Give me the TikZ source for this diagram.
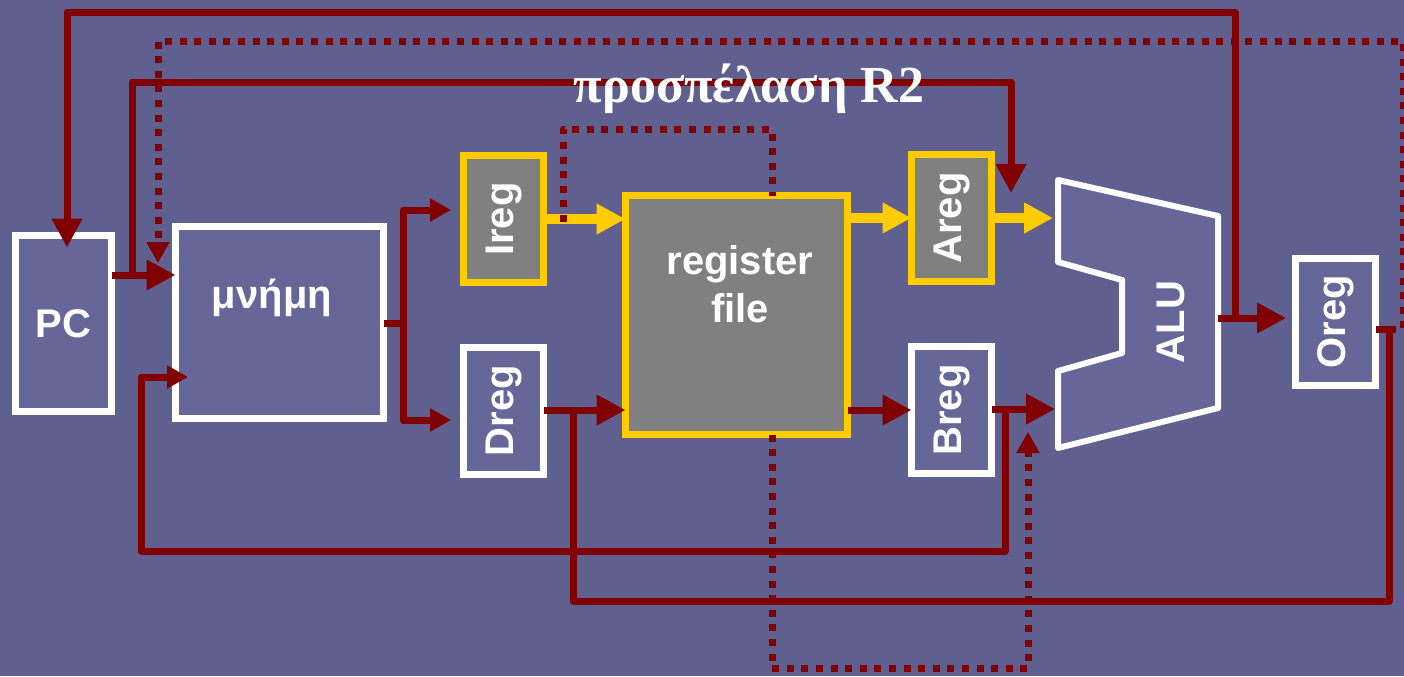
\documentclass[tikz,border=0pt]{standalone}
\usepackage{fontspec}
\setmainfont{Liberation Sans}
\newfontfamily\greekserif{Liberation Serif}
\usepackage{graphicx}
\usepackage{tikz}
\usetikzlibrary{arrows.meta, calc}
\definecolor{slideblue}{RGB}{96, 96, 144}
\definecolor{boxblue}{RGB}{102, 102, 153}
\definecolor{wirered}{RGB}{128, 0, 0}
\definecolor{hiyellow}{RGB}{255, 204, 0}
\definecolor{regfill}{RGB}{128, 128, 128}

\begin{document}
\begin{tikzpicture}[x=0.5pt, y=-0.5pt,
    box/.style={draw=white, fill=boxblue, line width=3.5pt, inner sep=0pt, outer sep=0pt,
      text=white, font=\bfseries\fontsize{20}{24}\selectfont},
    regbox/.style={box, minimum width=40pt, minimum height=63.5pt},
    hireg/.style={regbox, draw=hiyellow, fill=regfill},
    lbl/.style={text=white, font=\bfseries\fontsize{20}{24}\selectfont},
    alushape/.style={draw=white, fill=boxblue, line width=3pt, line join=round},
    wire/.style={draw=wirered, line width=3.5pt, line join=round},
    dotwire/.style={wire, dash pattern=on 3.5pt off 3.8pt},
    hiwire/.style={draw=hiyellow, line width=5pt},
    bigtip/.tip={Triangle[length=14.5pt, width=14.5pt]},
    smalltip/.tip={Triangle[length=10.5pt, width=11pt]}]
  \useasboundingbox (0,0) rectangle (1404,676);
  \fill[slideblue] (0,0) rectangle (1404,676);
  \clip (0,0) rectangle (1404,676);

  \node[box, minimum width=48pt, minimum height=88pt] (PC) at (63.5,323.5) {PC};
  \node[box, minimum width=104pt, minimum height=96pt] (mem) at (279.5,322.5) {};
  \node[lbl] (memtext) at (272,298) {μνήμη};
  \node[hireg] (Ireg) at (503.5,219) {\rotatebox{90}{Ireg}};
  \node[hireg, minimum width=111pt, minimum height=119.5pt] (rf) at (736.5,315) {};
  \node[lbl, align=center] (rftext) at (740,284) {register\\file};
  \node[hireg] (Areg) at (951.5,218) {\rotatebox{90}{Areg}};
  \node[regbox] (Dreg) at (503.5,410.5) {\rotatebox{90}{Dreg}};
  \node[regbox] (Breg) at (951.5,410) {\rotatebox{90}{Breg}};
  \node[regbox] (Oreg) at (1335.5,321.5) {\rotatebox{90}{Oreg}};

  \draw[alushape] (1058,180) -- (1218,216) -- (1218,408) -- (1058,448) -- (1058,371)
    -- (1122,353) -- (1122,280) -- (1058,262) -- cycle;
  \node[lbl] (alu) at (1171,322) {\rotatebox{90}{ALU}};

  \coordinate (alua) at (1053,218);
  \coordinate (alub) at (1055,409);
  \coordinate (aluo) at (1218,318);
  \coordinate (muxA) at (1011,193);
  \coordinate (muxB) at (1028,432);
  \coordinate (maddr) at (158,263);
  \coordinate (jpc) at (132,275);
  \coordinate (jmem) at (403,323);
  \coordinate (jd) at (573,410);
  \coordinate (jb) at (1005,409);
  \coordinate (jalu) at (1235,318);
  \coordinate (jo) at (1389,329);
  \coordinate (imm) at (563,222);
  \coordinate (immtop) at (772,129);

  % active path: read R2
  \draw[hiwire, -{bigtip}] (Ireg.east) -- (Ireg.east -| rf.west);
  \draw[hiwire, -{bigtip}] (rf.east |- Areg.west) -- (Areg.west);
  \draw[hiwire, -{bigtip}] (Areg.east) -- (alua);

  \draw[wire, -{bigtip}] (PC.east |- jpc) -- (jpc) -- (jpc -| mem.west);
  \draw[wire, -{bigtip}] (jpc) -- (132,82) -| (muxA);
  \draw[wire, -{bigtip}, shorten >=-6pt] (jalu) -- (1235,12) -| ([xshift=1.75pt]PC.north);
  \draw[wire, -{bigtip}, shorten >=4.75pt] (aluo) -- (aluo -| Oreg.west);
  \draw[wire, -{smalltip}, shorten >=6.25pt] (mem.east |- jmem) -- (jmem) |- ([yshift=4.5pt]Ireg.west);
  \draw[wire, -{smalltip}, shorten >=6.25pt] (jmem) |- ([yshift=-4.75pt]Dreg.west);
  \draw[wire, -{bigtip}] (Dreg.east |- jd) -- (jd) -- (jd -| rf.west);
  \draw[wire] (Oreg.east |- jo) -- (jo) -- (1389,601) -| (jd);
  \draw[wire, -{bigtip}] (rf.east |- Breg.west) -- (Breg.west);
  \draw[wire, -{bigtip}] (Breg.east |- jb) -- (jb) -- (alub);
  \draw[wire, -{smalltip}] (jb) -- (1005,551) -| (141,377) -- ([xshift=6.25pt, yshift=-27.25pt]mem.west);

  \draw[dotwire, -{smalltip}] (jo) -- (1403,329) |- (158,41) -- (maddr);
  \draw[dotwire] (imm) |- (immtop) -- (immtop |- rf.north);
  \draw[dotwire, -{smalltip}] (immtop |- rf.south) -- (772,668) -| (muxB);

  \node[text=white, font=\greekserif\bfseries\fontsize{26}{30}\selectfont] (title) at (749,89) {προσπέλαση R2};
\end{tikzpicture}
\end{document}
